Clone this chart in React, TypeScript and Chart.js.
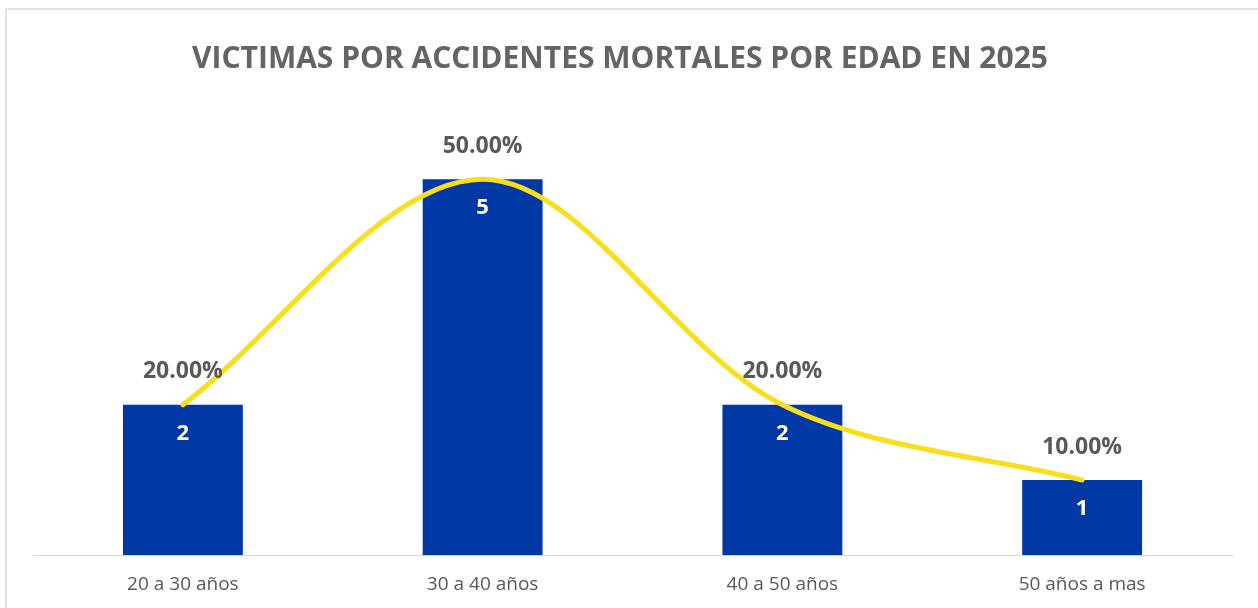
import React, { useEffect, useRef } from 'react';
import { Chart, registerables } from 'chart.js';

Chart.register(...registerables);

const categories = ['20 a 30 años', '30 a 40 años', '40 a 50 años', '50 años a mas'];
const victims = [2, 5, 2, 1];
const percentages = [20, 50, 20, 10];
const chartTitle = 'VICTIMAS POR ACCIDENTES MORTALES POR EDAD EN 2025';

const FONT = "'Open Sans', 'DejaVu Sans', sans-serif";
const BAR_COLOR = '#0039A6';
const LINE_COLOR = '#F9DE1C';
const TEXT_DARK = '#595959';

const titlePlugin = {
  id: 'customTitle',
  afterDraw(chart: any) {
    const ctx = chart.ctx;
    ctx.save();
    ctx.textAlign = 'center';
    ctx.textBaseline = 'alphabetic';
    ctx.font = `bold 30px ${FONT}`;
    ctx.fillStyle = '#646464';
    ctx.fillText(chartTitle, 620, 68);
    ctx.restore();
  },
};

const labelPlugin = {
  id: 'barLabels',
  afterDatasetsDraw(chart: any) {
    const ctx = chart.ctx;
    const meta = chart.getDatasetMeta(0);
    ctx.save();
    ctx.textAlign = 'center';
    ctx.textBaseline = 'middle';
    meta.data.forEach((bar: any, i: number) => {
      const { x, y } = bar.getProps(['x', 'y'], true);
      ctx.font = `bold 22px ${FONT}`;
      ctx.fillStyle = '#ffffff';
      ctx.fillText(String(victims[i]), x, y + 29);
      ctx.font = `bold 23px ${FONT}`;
      ctx.fillStyle = TEXT_DARK;
      ctx.fillText(percentages[i].toFixed(2) + '%', x, y - 33);
    });
    ctx.restore();
  },
};

export default function App() {
  const ref = useRef<HTMLCanvasElement | null>(null);

  useEffect(() => {
    if (!ref.current) return;
    const chart = new Chart(ref.current, {
      type: 'bar',
      data: {
        labels: categories,
        datasets: [
          {
            type: 'bar',
            label: 'Víctimas',
            data: victims,
            backgroundColor: BAR_COLOR,
            categoryPercentage: 1,
            barPercentage: 0.4,
            yAxisID: 'y',
            order: 2,
          },
          {
            type: 'line',
            label: 'Porcentaje',
            data: percentages,
            borderColor: LINE_COLOR,
            borderWidth: 5,
            pointRadius: 0,
            tension: 0.33,
            borderCapStyle: 'round',
            yAxisID: 'y1',
            order: 1,
          } as any,
        ],
      },
      options: {
        responsive: false,
        animation: false,
        layout: { padding: { left: 33, right: 26, top: 104, bottom: 0 } },
        plugins: {
          legend: { display: false },
          tooltip: { enabled: false },
          title: { display: false },
        },
        scales: {
          x: {
            grid: { display: false, drawTicks: false },
            border: { display: true, color: '#d9d9d9', width: 1 },
            ticks: { color: TEXT_DARK, font: { family: FONT, size: 19 }, padding: 18 },
          },
          y: { display: false, min: 0, max: 6 },
          y1: { display: false, min: 0, max: 60 },
        },
      },
      plugins: [labelPlugin, titlePlugin],
    });
    return () => chart.destroy();
  }, []);

  return (
    <div style={{ position: 'fixed', left: 0, top: 0, width: 1258, height: 608, background: '#fff', overflow: 'hidden' }}>
      <div style={{ position: 'absolute', left: 5, top: 8, width: 1300, height: 700, border: '2px solid #e3e3e3' }} />
      <canvas ref={ref} width={1258} height={614} style={{ position: 'absolute', left: 0, top: 0 }} />
    </div>
  );
}
